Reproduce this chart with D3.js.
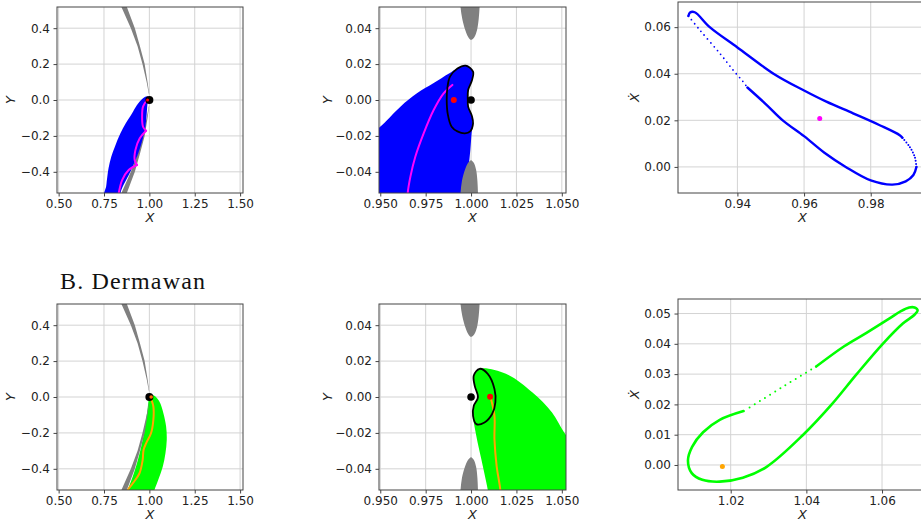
<!DOCTYPE html>
<html>
<head>
<meta charset="utf-8">
<script src="https://cdn.jsdelivr.net/npm/d3@7"></script>
<style>
  body { margin: 0; background: #fff; }
  svg { display: block; }
  .tick text { font-family: "DejaVu Sans", sans-serif; font-size: 12px; fill: #222; }
  .lab { font-family: "DejaVu Sans", sans-serif; font-style: italic; font-size: 13px; fill: #222; }
</style>
</head>
<body>
<svg id="fig" width="921" height="524"></svg>
<script>
// ---- data (data coordinates) ----

// forbidden region (gray) around the unit circle, wide view
const grayBandUpper = [[0.876,0.56],[0.876,0.518],[0.92,0.4],[0.948,0.3],[0.974,0.2],[0.99,0.1],[0.999,0.035],
  [0.997,0.035],[0.985,0.1],[0.962,0.2],[0.935,0.3],[0.898,0.4],[0.846,0.518],[0.84,0.56]];
const grayBandLower = grayBandUpper.map(p => [p[0], -p[1]]);

// gray lobes, zoomed view
const grayLobeUpper = [[0.9938,0.06],[0.9942,0.0518],[0.9952,0.045],[0.9968,0.039],[0.9985,0.035],[1.0,0.0335],
  [1.0018,0.035],[1.0033,0.039],[1.0042,0.045],[1.0047,0.0518],[1.005,0.06]];
const grayLobeLower = [[0.9936,-0.06],[0.9942,-0.0518],[0.995,-0.045],[0.9966,-0.039],[0.9984,-0.035],[1.0,-0.0335],
  [1.0015,-0.035],[1.0028,-0.039],[1.0035,-0.045],[1.0038,-0.0518],[1.004,-0.06]];

// top row (blue case)
const blueWide = [[0.99,0.02],[0.965,0.01],[0.93,-0.03],[0.905,-0.074],[0.87,-0.13],[0.84,-0.186],[0.81,-0.26],
  [0.79,-0.316],[0.775,-0.38],[0.766,-0.446],[0.762,-0.48],[0.745,-0.56],[0.83,-0.56],[0.845,-0.502],
  [0.9,-0.39],[0.945,-0.279],[0.978,-0.149],[0.991,-0.009],[0.996,0.012]];
const magentaWide = [[0.987,0.0],[0.965,-0.037],[0.96,-0.093],[0.965,-0.149],[0.982,-0.171],
  [0.947,-0.213],[0.923,-0.279],[0.919,-0.334],[0.932,-0.362],
  [0.886,-0.39],[0.85,-0.446],[0.831,-0.52],[0.826,-0.56]];
const blueZoom = [[0.94,-0.022],[0.9493,-0.0155],[0.9611,-0.0037],[0.9702,0.0037],[0.9792,0.0093],[0.9881,0.0149],
  [0.9954,0.0189],[0.9985,0.019],[1.0009,0.0158],[1.0003,0.011],[0.9984,0.0056],[0.9982,0.0],[0.9984,-0.0037],
  [1.0003,-0.009],[1.0009,-0.013],[1.0003,-0.0186],[0.9996,-0.0279],[0.9983,-0.0408],[0.9972,-0.052],[0.997,-0.06],[0.94,-0.06]];
const kidneyBlue = [[0.9971,0.0191],[1.0011,0.0158],[1.0005,0.011],[0.9984,0.0056],[0.9982,0.0],[0.9984,-0.0037],
  [1.0005,-0.009],[1.0011,-0.013],[0.9995,-0.0175],[0.9966,-0.0186],[0.9925,-0.0175],[0.9893,-0.0149],
  [0.9872,-0.008],[0.9866,0.0],[0.987,0.007],[0.9884,0.013],[0.9925,0.0175]];
const magentaZoom = [[0.9897,0.0084],[0.9849,0.0037],[0.9794,-0.0056],[0.9739,-0.0186],[0.9693,-0.0316],
  [0.9666,-0.0427],[0.9651,-0.052],[0.9648,-0.06]];
const blueLoopDense1 = [[0.943,0.0341],[0.9485,0.027],[0.9536,0.02],[0.96,0.0132],[0.966,0.0062],[0.9725,0.0],
  [0.98,-0.0058],[0.9865,-0.0076],[0.9905,-0.0062],[0.9928,-0.0035],[0.9937,0.0]];
const blueLoopSparse1 = [[0.9937,0.0],[0.9932,0.0043],[0.9917,0.0086],[0.9895,0.0125]];
const blueLoopDense2 = [[0.9895,0.0125],[0.9887,0.0136],[0.9827,0.0179],[0.9747,0.023],[0.9667,0.028],[0.96,0.0328],
  [0.9512,0.0397],[0.94,0.0513],[0.9317,0.06],[0.9272,0.0664],[0.9258,0.0663],[0.9253,0.0648]];
const blueLoopSparse2 = [[0.9253,0.0648],[0.9287,0.0588],[0.9347,0.0488],[0.9387,0.0416],[0.9417,0.0366],[0.943,0.0341]];
const magentaPoint = [0.9647, 0.0208];
const redPointBlue = [0.9905, 0.0];

// bottom row (green case)
const greenWide = [[1.0,0.013],[1.0276,0.007],[1.0552,-0.025],[1.0773,-0.09],[1.0923,-0.165],[1.0958,-0.239],
  [1.0884,-0.314],[1.0737,-0.389],[1.0516,-0.454],[1.0276,-0.519],[1.015,-0.56],[0.86,-0.56],
  [0.88,-0.519],[0.926,-0.389],[0.963,-0.239],[0.987,-0.09],[0.996,-0.015]];
const orangeWide = [[1.004,0.003],[1.022,-0.053],[1.022,-0.127],[1.009,-0.202],[0.982,-0.258],[0.968,-0.295],
  [0.963,-0.351],[0.945,-0.426],[0.908,-0.482],[0.881,-0.519],[0.87,-0.56]];
const greenZoom = [[1.0047,0.0157],[1.0192,0.0129],[1.0337,0.0026],[1.0446,-0.0086],[1.0513,-0.0198],[1.06,-0.032],
  [1.06,-0.06],[1.0105,-0.06],[1.0092,-0.0516],[1.0057,-0.0348],[1.0029,-0.0217],[1.0011,-0.0105],
  [1.0015,-0.0049],[1.0038,-0.0002],[1.002,0.0063],[1.0015,0.012]];
const kidneyGreen = [[1.0047,0.0157],[1.0092,0.0129],[1.0129,0.0045],[1.0134,-0.003],[1.0116,-0.0095],
  [1.0074,-0.0142],[1.0029,-0.0151],[1.0011,-0.0105],[1.0015,-0.0049],[1.0038,-0.0002],[1.002,0.0063],[1.0015,0.012]];
const orangeZoom = [[1.011,-0.0011],[1.0129,-0.0105],[1.0129,-0.0236],[1.0141,-0.0385],[1.0161,-0.0516],[1.0165,-0.06]];
const greenLoopDense1 = [[1.0234,0.0178],[1.0171,0.0149],[1.0127,0.0108],[1.0098,0.006],[1.0087,0.0015],
  [1.0097,-0.0027],[1.0125,-0.0049],[1.0171,-0.0055],[1.0232,-0.0042],[1.0295,-0.0006],
  [1.0391,0.0099],[1.0467,0.02],[1.0533,0.03],[1.0602,0.04],[1.0655,0.0467],[1.0686,0.0496],[1.0694,0.0511],
  [1.0686,0.052],[1.0672,0.052],[1.065,0.0508],[1.062,0.0484],[1.056,0.0437],[1.05,0.0392],[1.0426,0.0325]];
const greenLoopSparse = [[1.0426,0.0325],[1.0335,0.0256],[1.0245,0.0186]];
const orangePoint = [1.0178, -0.0005];
const redPointGreen = [1.0105, 0.0002];
const bodyPoint = [1.0, 0.0];

// ticks
const ticksWideX = [0.5, 0.75, 1.0, 1.25, 1.5];
const ticksWideY = [-0.4, -0.2, 0.0, 0.2, 0.4];
const ticksZoomX = [0.95, 0.975, 1.0, 1.025, 1.05];
const ticksZoomY = [-0.04, -0.02, 0.0, 0.02, 0.04];
const ticksBlueLoopX = [0.94, 0.96, 0.98];
const ticksBlueLoopY = [0.0, 0.02, 0.04, 0.06];
const ticksGreenLoopX = [1.02, 1.04, 1.06];
const ticksGreenLoopY = [0.0, 0.01, 0.02, 0.03, 0.04, 0.05];

const svg = d3.select("#fig");
const defs = svg.append("defs");
let clipId = 0;

function panel(o) {
  const x = d3.scaleLinear().domain(o.xd).range([o.left, o.right]);
  const y = d3.scaleLinear().domain(o.yd).range([o.bottom, o.top]);
  const g = svg.append("g");
  const id = "clip" + (clipId++);
  defs.append("clipPath").attr("id", id).append("rect")
    .attr("x", o.left).attr("y", o.top)
    .attr("width", o.right - o.left).attr("height", o.bottom - o.top);

  // grid
  g.append("g").selectAll("line").data(o.xt).join("line")
    .attr("x1", d => x(d)).attr("x2", d => x(d)).attr("y1", o.top).attr("y2", o.bottom)
    .attr("stroke", "#d3d3d3").attr("stroke-width", 1);
  g.append("g").selectAll("line").data(o.yt).join("line")
    .attr("y1", d => y(d)).attr("y2", d => y(d)).attr("x1", o.left).attr("x2", o.right)
    .attr("stroke", "#d3d3d3").attr("stroke-width", 1);

  const plot = g.append("g").attr("clip-path", `url(#${id})`);
  const line = d3.line().x(d => x(d[0])).y(d => y(d[1]));

  // axes
  const ax = g.append("g").attr("transform", `translate(0,${o.bottom})`)
    .call(d3.axisBottom(x).tickValues(o.xt).tickFormat(d3.format(o.xf)).tickSize(3.5).tickPadding(2.5));
  const ay = g.append("g").attr("transform", `translate(${o.left},0)`)
    .call(d3.axisLeft(y).tickValues(o.yt).tickFormat(d3.format(o.yf)).tickSize(3.5).tickPadding(3.5));
  [ax, ay].forEach(a => { a.select(".domain").remove(); a.selectAll(".tick line").attr("stroke", "#444"); });

  g.append("rect").attr("x", o.left).attr("y", o.top)
    .attr("width", o.right - o.left).attr("height", o.bottom - o.top)
    .attr("fill", "none").attr("stroke", "#444").attr("stroke-width", 1);

  g.append("text").attr("class", "lab").attr("text-anchor", "middle")
    .attr("x", (o.left + Math.min(o.right, 921)) / 2 + (o.xlabShift || 0)).attr("y", o.bottom + 29)
    .text("X");
  g.append("text").attr("class", "lab").attr("text-anchor", "middle")
    .attr("transform", `translate(${o.ylabX},${(o.top + o.bottom) / 2}) rotate(-90)`)
    .attr("dy", "0.35em").text(o.ylab);

  return { x, y, plot, line };
}

function fillShape(p, pts, color, curve) {
  p.plot.append("path").datum(pts)
    .attr("d", p.line.curve(curve || d3.curveCatmullRomClosed.alpha(0.5)))
    .attr("fill", color).attr("stroke", "none");
}
function strokeLine(p, pts, color, w, curve, dash) {
  const path = p.plot.append("path").datum(pts)
    .attr("d", p.line.curve(curve || d3.curveCatmullRom.alpha(0.5)))
    .attr("fill", "none").attr("stroke", color).attr("stroke-width", w)
    .attr("stroke-linecap", "round").attr("stroke-linejoin", "round");
  if (dash) path.attr("stroke-dasharray", dash);
}
function dot(p, pt, color, r) {
  p.plot.append("circle").attr("cx", p.x(pt[0])).attr("cy", p.y(pt[1])).attr("r", r).attr("fill", color);
}

const wideX = [0.491, 1.516], wideY = [-0.518, 0.518];
const zoomX = [0.9493, 1.0523], zoomY = [-0.0518, 0.0518];

// ---------- top row ----------
const p1 = panel({ left: 57, right: 243, top: 7, bottom: 193, xd: wideX, yd: wideY,
  xt: ticksWideX, yt: ticksWideY, xf: ".2f", yf: ".1f", ylab: "Y", ylabX: 10 });
fillShape(p1, grayBandUpper, "#808080", d3.curveLinearClosed);
fillShape(p1, grayBandLower, "#808080", d3.curveLinearClosed);
fillShape(p1, blueWide, "#0000ff");
strokeLine(p1, magentaWide.slice(0, 5), "#ff00ff", 2);
strokeLine(p1, magentaWide.slice(4, 9), "#ff00ff", 2);
strokeLine(p1, magentaWide.slice(8), "#ff00ff", 2);
dot(p1, bodyPoint, "#000", 4);
dot(p1, [0.99, 0.0], "#ff0000", 1.5);

const p2 = panel({ left: 379, right: 566, top: 7, bottom: 193, xd: zoomX, yd: zoomY,
  xt: ticksZoomX, yt: ticksZoomY, xf: ".3f", yf: ".2f", ylab: "Y", ylabX: 327 });
fillShape(p2, blueZoom, "#0000ff");
fillShape(p2, grayLobeUpper, "#808080");
fillShape(p2, grayLobeLower, "#808080");
strokeLine(p2, magentaZoom, "#ff00ff", 2);
p2.plot.append("path").datum(kidneyBlue)
  .attr("d", p2.line.curve(d3.curveCatmullRomClosed.alpha(0.5)))
  .attr("fill", "none").attr("stroke", "#000").attr("stroke-width", 1.8);
dot(p2, redPointBlue, "#ff0000", 3);
dot(p2, bodyPoint, "#000", 3.8);

const p3 = panel({ left: 678, right: 925, top: 2, bottom: 193, xd: [0.92218, 0.99628], yd: [-0.0112, 0.0708],
  xt: ticksBlueLoopX, yt: ticksBlueLoopY, xf: ".2f", yf: ".2f", ylab: "\u1E8A", ylabX: 634, xlabShift: 3 });
strokeLine(p3, blueLoopDense1, "#0000ff", 2.4);
strokeLine(p3, blueLoopSparse1, "#0000ff", 2, null, "0,3");
strokeLine(p3, blueLoopDense2, "#0000ff", 2.4);
strokeLine(p3, blueLoopSparse2, "#0000ff", 1.8, null, "0,5");
dot(p3, magentaPoint, "#ff00ff", 2.5);

// ---------- bottom row ----------
svg.append("text").attr("x", 60).attr("y", 289)
  .attr("font-family", "'Liberation Serif', serif").attr("font-size", 24)
  .attr("textLength", 145).attr("fill", "#111").text("B. Dermawan");

const p4 = panel({ left: 57, right: 243, top: 304, bottom: 490, xd: wideX, yd: wideY,
  xt: ticksWideX, yt: ticksWideY, xf: ".2f", yf: ".1f", ylab: "Y", ylabX: 10 });
fillShape(p4, greenWide, "#00ff00");
fillShape(p4, grayBandUpper, "#808080", d3.curveLinearClosed);
fillShape(p4, grayBandLower, "#808080", d3.curveLinearClosed);
strokeLine(p4, orangeWide, "#ffa500", 2);
dot(p4, bodyPoint, "#000", 4);
dot(p4, [1.01, 0.0], "#ff6a00", 1.8);

const p5 = panel({ left: 379, right: 566, top: 304, bottom: 490, xd: zoomX, yd: zoomY,
  xt: ticksZoomX, yt: ticksZoomY, xf: ".3f", yf: ".2f", ylab: "Y", ylabX: 327 });
fillShape(p5, greenZoom, "#00ff00");
fillShape(p5, grayLobeUpper, "#808080");
fillShape(p5, grayLobeLower, "#808080");
strokeLine(p5, orangeZoom, "#ffa500", 2);
p5.plot.append("path").datum(kidneyGreen)
  .attr("d", p5.line.curve(d3.curveCatmullRomClosed.alpha(0.5)))
  .attr("fill", "none").attr("stroke", "#000").attr("stroke-width", 1.8);
dot(p5, redPointGreen, "#ff0000", 3);
dot(p5, bodyPoint, "#000", 3.8);

const p6 = panel({ left: 678, right: 925, top: 299, bottom: 490, xd: [1.00607, 1.07136], yd: [-0.00826, 0.0548],
  xt: ticksGreenLoopX, yt: ticksGreenLoopY, xf: ".2f", yf: ".2f", ylab: "\u1E8A", ylabX: 634, xlabShift: 3 });
strokeLine(p6, greenLoopDense1, "#00ff00", 2.6);
strokeLine(p6, greenLoopSparse, "#00ff00", 2, null, "0,6");
dot(p6, orangePoint, "#ffa500", 2.5);
</script>
</body>
</html>
